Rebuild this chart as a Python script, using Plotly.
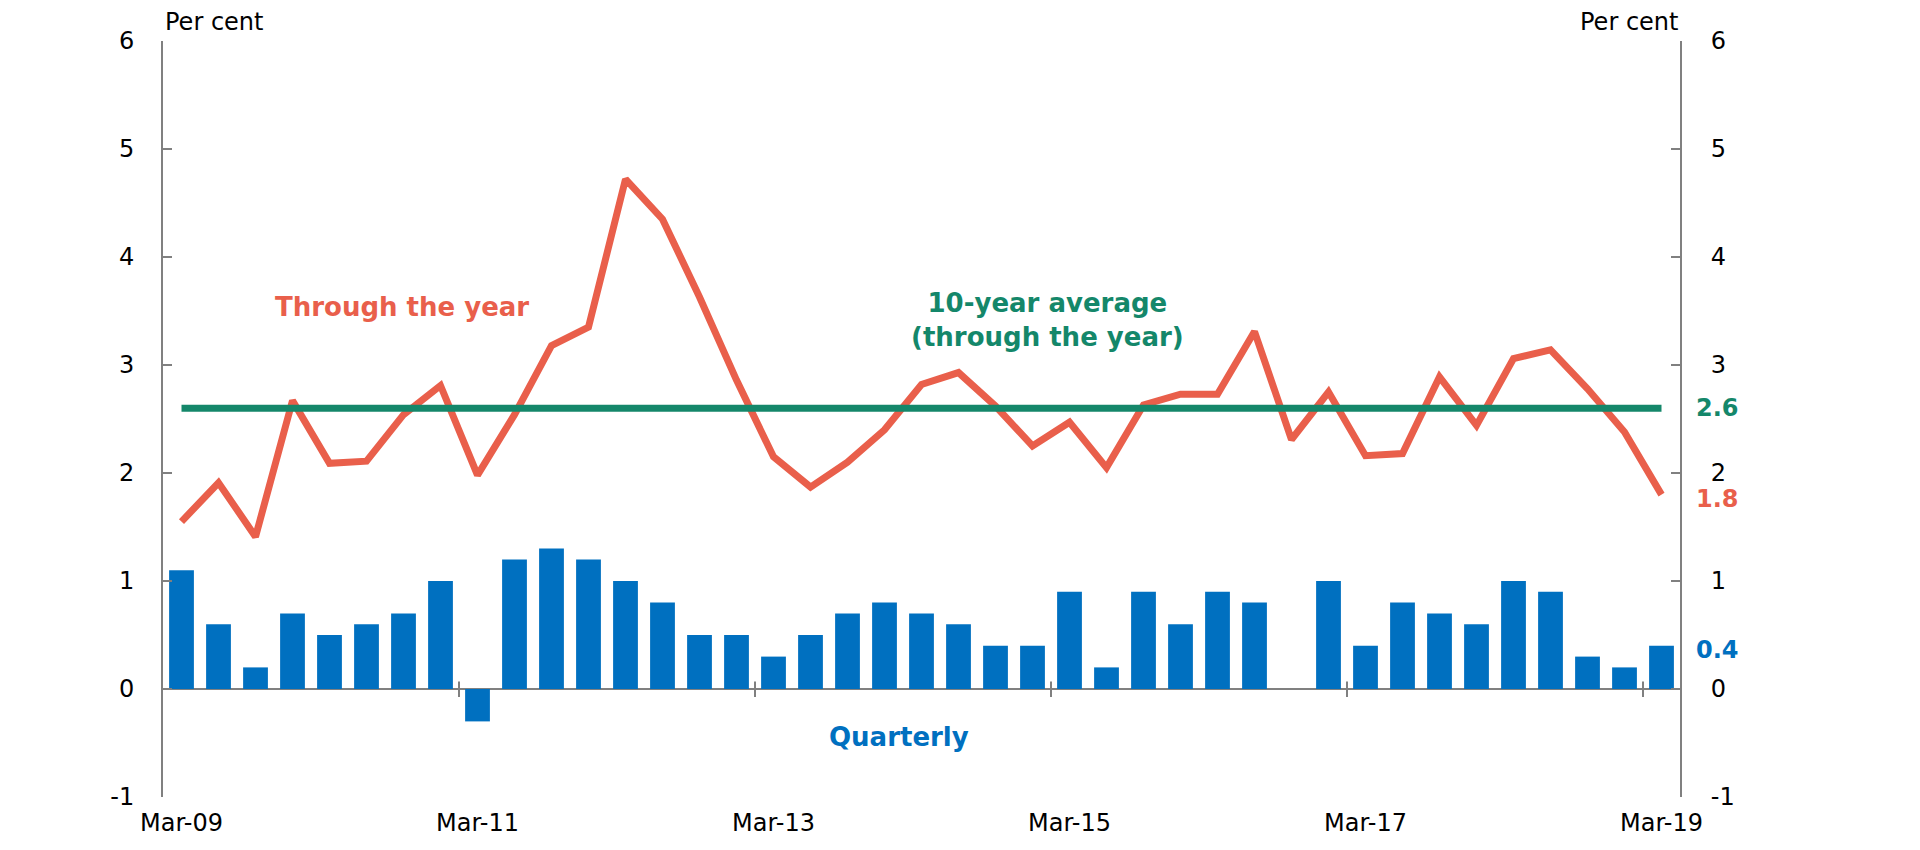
import plotly.graph_objects as go

quarters = [
    "Mar-09", "Jun-09", "Sep-09", "Dec-09",
    "Mar-10", "Jun-10", "Sep-10", "Dec-10",
    "Mar-11", "Jun-11", "Sep-11", "Dec-11",
    "Mar-12", "Jun-12", "Sep-12", "Dec-12",
    "Mar-13", "Jun-13", "Sep-13", "Dec-13",
    "Mar-14", "Jun-14", "Sep-14", "Dec-14",
    "Mar-15", "Jun-15", "Sep-15", "Dec-15",
    "Mar-16", "Jun-16", "Sep-16", "Dec-16",
    "Mar-17", "Jun-17", "Sep-17", "Dec-17",
    "Mar-18", "Jun-18", "Sep-18", "Dec-18",
    "Mar-19",
]

quarterly = [1.1, 0.6, 0.2, 0.7, 0.5, 0.6, 0.7, 1.0,
             -0.3, 1.2, 1.3, 1.2, 1.0, 0.8, 0.5, 0.5,
             0.3, 0.5, 0.7, 0.8, 0.7, 0.6, 0.4, 0.4,
             0.9, 0.2, 0.9, 0.6, 0.9, 0.8, 0.0, 1.0,
             0.4, 0.8, 0.7, 0.6, 1.0, 0.9, 0.3, 0.2,
             0.4]

through_year = [1.55, 1.91, 1.41, 2.67, 2.09, 2.11, 2.54, 2.81,
                1.98, 2.54, 3.18, 3.35, 4.72, 4.35, 3.63, 2.86,
                2.15, 1.87, 2.10, 2.40, 2.82, 2.93, 2.62, 2.25,
                2.47, 2.05, 2.63, 2.73, 2.73, 3.31, 2.31, 2.75,
                2.16, 2.18, 2.89, 2.44, 3.06, 3.14, 2.78, 2.38,
                1.80]

ten_year_avg = 2.6

tick_labels = ["Mar-09", "Mar-11", "Mar-13", "Mar-15", "Mar-17", "Mar-19"]
y_ticks = [-1, 0, 1, 2, 3, 4, 5, 6]
y_ticktext = ["-1", "0", "1", "2", "3", "4", "5", "6"]

RED = "#e95f4b"
GREEN = "#14876a"
BLUE = "#0070c0"
GREY = "#808080"
FONT = "DejaVu Sans"

fig = go.Figure()

fig.add_trace(go.Bar(
    x=quarters, y=quarterly,
    marker=dict(color=BLUE, line=dict(width=0)),
    showlegend=False,
))

fig.add_trace(go.Scatter(
    x=quarters, y=through_year, mode="lines",
    line=dict(color=RED, width=7),
    showlegend=False,
))

fig.add_trace(go.Scatter(
    x=[quarters[0], quarters[-1]], y=[ten_year_avg, ten_year_avg],
    mode="lines", yaxis="y2",
    line=dict(color=GREEN, width=7),
    showlegend=False,
))

# Tick marks crossing the zero line at category boundaries
shapes = []
for lab in tick_labels[1:]:
    b = quarters.index(lab) - 0.5
    shapes.append(dict(type="line", xref="x", yref="y",
                       x0=b, x1=b, y0=-0.075, y1=0.07,
                       line=dict(color=GREY, width=2)))

axis_font = dict(family=FONT, size=24, color="#000000")

fig.update_layout(
    width=1920, height=850,
    margin=dict(l=163, r=240, t=41, b=53),
    paper_bgcolor="white", plot_bgcolor="white",
    bargap=0.33,
    font=dict(family=FONT, size=24, color="#000000"),
    xaxis=dict(
        type="category",
        range=[-0.5, len(quarters) - 0.5],
        tickvals=tick_labels, ticktext=tick_labels,
        ticks="", showline=False, showgrid=False, zeroline=False,
        tickfont=axis_font, tickangle=0,
        ticklabelstandoff=9,
    ),
    yaxis=dict(
        range=[-1, 6], tickvals=y_ticks, ticktext=y_ticktext,
        ticks="inside", ticklen=9, tickwidth=2, tickcolor=GREY,
        showline=True, linecolor=GREY, linewidth=2,
        zeroline=True, zerolinecolor=GREY, zerolinewidth=2,
        showgrid=False, tickfont=axis_font,
        ticklabelstandoff=22,
    ),
    yaxis2=dict(
        range=[-1, 6], tickvals=y_ticks, ticktext=y_ticktext,
        overlaying="y", side="right",
        ticks="inside", ticklen=9, tickwidth=2, tickcolor=GREY,
        showline=True, linecolor=GREY, linewidth=2,
        zeroline=False, showgrid=False, tickfont=axis_font,
        ticklabelstandoff=24,
    ),
    shapes=shapes,
)

bold = lambda c, s=26: dict(family=FONT, size=s, color=c, weight="bold")

annotations = [
    dict(text="Per cent", xref="paper", yref="paper", x=0, y=1,
         xanchor="left", yanchor="bottom", yshift=3, showarrow=False,
         font=axis_font),
    dict(text="Per cent", xref="paper", yref="paper", x=1, y=1,
         xanchor="right", yanchor="bottom", yshift=3, showarrow=False,
         font=axis_font),
    dict(text="Through the year", xref="x", yref="y", x=5.95, y=3.54,
         xanchor="center", yanchor="middle", showarrow=False,
         font=bold(RED)),
    dict(text="10-year average<br>(through the year)", xref="x", yref="y",
         x=23.4, y=3.42, xanchor="center", yanchor="middle",
         showarrow=False, font=bold(GREEN)),
    dict(text="Quarterly", xref="x", yref="y", x=19.4, y=-0.44,
         xanchor="center", yanchor="middle", showarrow=False,
         font=bold(BLUE)),
    dict(text=f"{ten_year_avg}", xref="paper", yref="y", x=1, y=ten_year_avg,
         xshift=37, xanchor="center", yanchor="middle", showarrow=False,
         font=bold(GREEN, 24)),
    dict(text=f"{through_year[-1]:.1f}", xref="paper", yref="y", x=1,
         y=through_year[-1], yshift=-4, xshift=37, xanchor="center",
         yanchor="middle", showarrow=False, font=bold(RED, 24)),
    dict(text=f"{quarterly[-1]}", xref="paper", yref="y", x=1,
         y=quarterly[-1], yshift=-4, xshift=37, xanchor="center",
         yanchor="middle", showarrow=False, font=bold(BLUE, 24)),
]
fig.update_layout(annotations=annotations)

fig.write_html("out.html", config={"displayModeBar": False},
               post_script="document.body.style.margin='0';")
